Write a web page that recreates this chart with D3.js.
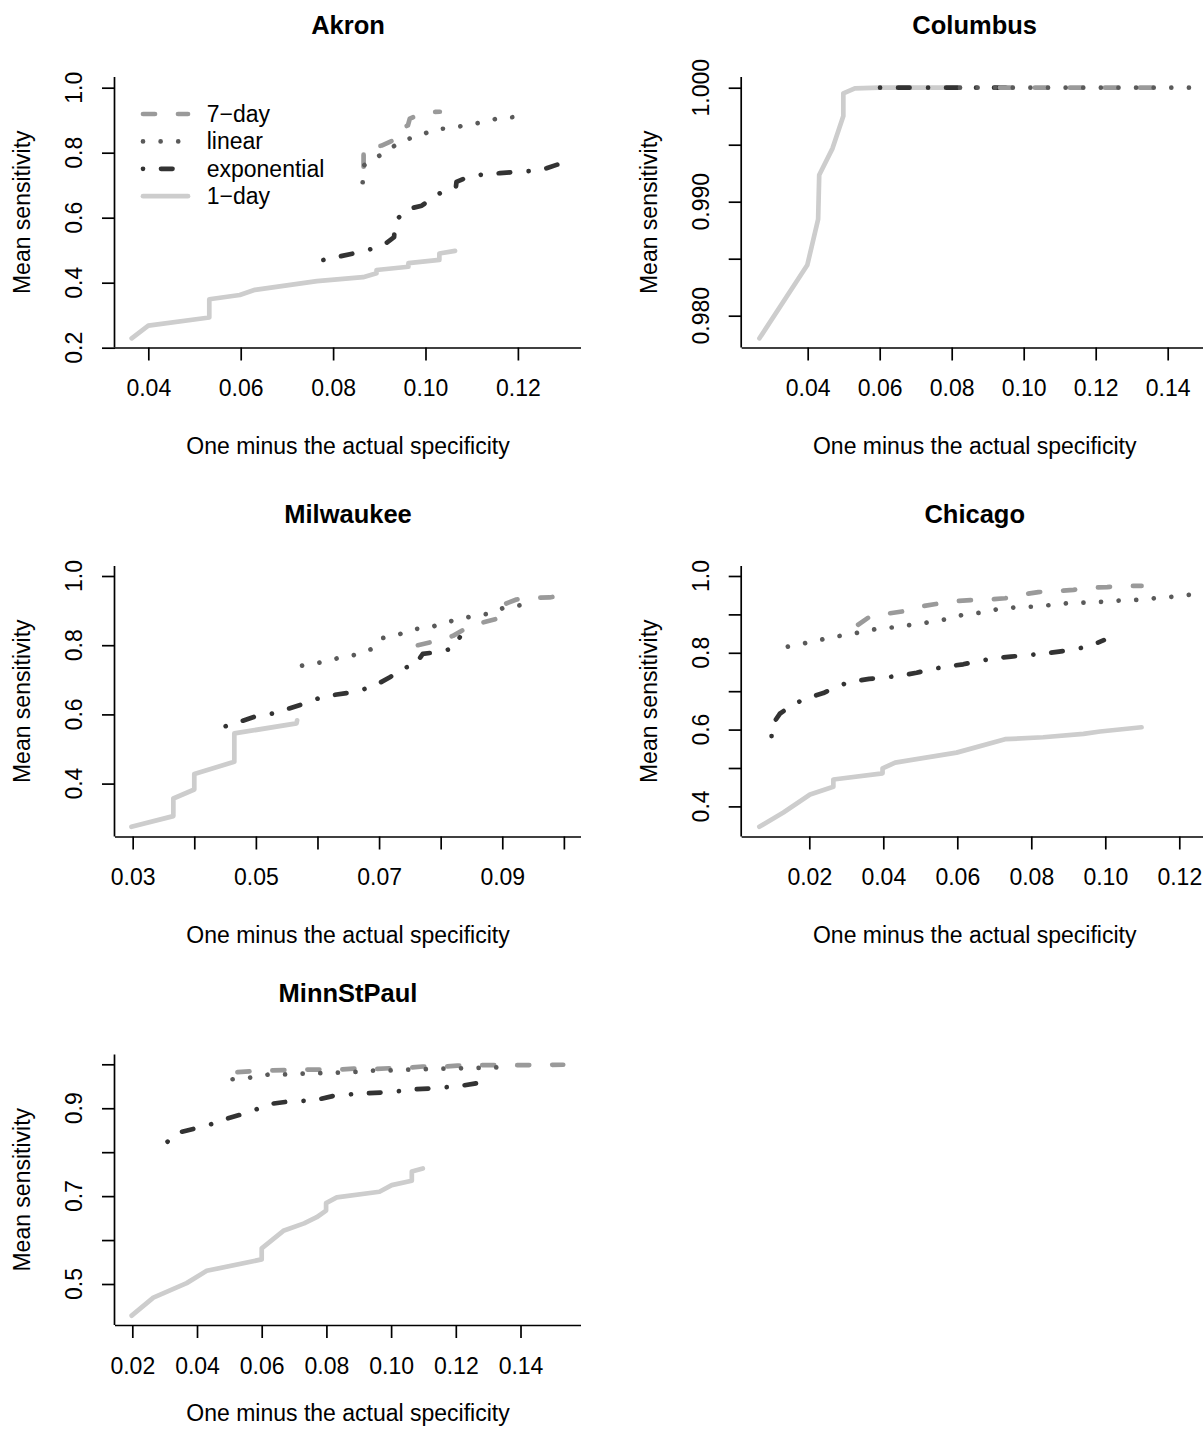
<!DOCTYPE html>
<html>
<head>
<meta charset="utf-8">
<script src="https://cdn.jsdelivr.net/npm/d3@7"></script>
<style>
  body { margin: 0; background: #ffffff; }
  svg { display: block; font-family: "Liberation Sans", Arial, Helvetica, sans-serif; }
</style>
</head>
<body>
<svg id="chart" width="1203" height="1433"></svg>
<script>
// ---- Series order and names ----
const seriesNames = ["7-day", "linear", "exponential", "1-day"];

// ---- Akron ----
const akronDay7 = [[0.0866,0.757],[0.0866,0.812],[0.0905,0.822],[0.0930,0.838],[0.0940,0.870],[0.0962,0.884],[0.0966,0.905],[0.1000,0.924],[0.1031,0.926]];
const akronLinear = [[0.0864,0.709],[0.0866,0.760],[0.0880,0.775],[0.0897,0.788],[0.0952,0.839],[0.0988,0.851],[0.1017,0.872],[0.1053,0.875],[0.1089,0.885],[0.1125,0.894],[0.1158,0.906],[0.1196,0.910]];
const akronExp = [[0.0779,0.470],[0.0844,0.490],[0.0881,0.503],[0.0916,0.523],[0.0932,0.540],[0.0933,0.560],[0.0940,0.598],[0.0963,0.627],[0.0992,0.637],[0.1019,0.665],[0.1049,0.690],[0.1066,0.696],[0.1067,0.710],[0.1096,0.728],[0.1132,0.734],[0.1161,0.737],[0.1197,0.741],[0.1241,0.745],[0.1262,0.752],[0.1297,0.769]];
const akronDay1 = [[0.0364,0.229],[0.0400,0.268],[0.0532,0.293],[0.0532,0.349],[0.0598,0.362],[0.0631,0.378],[0.0765,0.405],[0.0865,0.417],[0.0894,0.429],[0.0894,0.439],[0.0963,0.449],[0.0963,0.460],[0.1030,0.470],[0.1030,0.490],[0.1064,0.498]];
const akronXLim = [0.03279, 0.13366];
const akronYLim = [0.2006, 1.0329];
const akronXTicks = [0.04, 0.06, 0.08, 0.10, 0.12];
const akronXLabels = [0.04, 0.06, 0.08, 0.10, 0.12];
const akronYTicks = [0.2, 0.4, 0.6, 0.8, 1.0];
const akronYLabels = [0.2, 0.4, 0.6, 0.8, 1.0];

// ---- Columbus ----
const columbusDay7 = [[0.0934,1.0],[0.1370,1.0]];
const columbusLinear = [[0.0823,1.0],[0.1462,1.0]];
const columbusExp = [[0.0601,1.0],[0.0997,1.0]];
const columbusDay1 = [[0.0266,0.97802],[0.0399,0.98445],[0.0429,0.98846],[0.0432,0.99234],[0.0469,0.99468],[0.0499,0.99752],[0.0499,0.99951],[0.0531,0.99995],[0.0601,1.0],[0.0823,1.0]];
const columbusXLim = [0.02167, 0.15111];
const columbusYLim = [0.97721, 1.00094];
const columbusXTicks = [0.04, 0.06, 0.08, 0.10, 0.12, 0.14];
const columbusXLabels = [0.04, 0.06, 0.08, 0.10, 0.12, 0.14];
const columbusYTicks = [0.980, 0.985, 0.990, 0.995, 1.000];
const columbusYLabels = [0.980, 0.990, 1.000];

// ---- Milwaukee ----
const milwaukeeDay7 = [[0.0763,0.800],[0.0799,0.815],[0.0820,0.827],[0.0842,0.850],[0.0867,0.865],[0.0895,0.878],[0.0899,0.882],[0.0900,0.916],[0.0923,0.932],[0.0945,0.937],[0.0977,0.938],[0.0999,0.945]];
const milwaukeeLinear = [[0.0575,0.741],[0.0604,0.750],[0.0632,0.762],[0.0661,0.772],[0.0688,0.789],[0.0704,0.820],[0.0732,0.831],[0.0754,0.846],[0.0783,0.851],[0.0805,0.865],[0.0831,0.875],[0.0856,0.886],[0.0884,0.892],[0.0903,0.909],[0.0932,0.916]];
const milwaukeeExp = [[0.0451,0.566],[0.0474,0.579],[0.0501,0.595],[0.0528,0.603],[0.0550,0.615],[0.0577,0.630],[0.0601,0.646],[0.0626,0.656],[0.0653,0.663],[0.0680,0.675],[0.0700,0.690],[0.0719,0.709],[0.0737,0.733],[0.0760,0.743],[0.0765,0.760],[0.0771,0.775],[0.0799,0.781],[0.0820,0.791],[0.0826,0.805],[0.0831,0.823]];
const milwaukeeDay1 = [[0.0298,0.275],[0.0366,0.306],[0.0366,0.357],[0.0400,0.383],[0.0400,0.428],[0.0465,0.463],[0.0465,0.545],[0.0566,0.574],[0.0567,0.583]];
const milwaukeeXLim = [0.02713, 0.10278];
const milwaukeeYLim = [0.2471, 1.0289];
const milwaukeeXTicks = [0.03, 0.04, 0.05, 0.06, 0.07, 0.08, 0.09, 0.10];
const milwaukeeXLabels = [0.03, 0.05, 0.07, 0.09];
const milwaukeeYTicks = [0.4, 0.6, 0.8, 1.0];
const milwaukeeYLabels = [0.4, 0.6, 0.8, 1.0];

// ---- Chicago ----
const chicagoDay7 = [[0.0332,0.873],[0.0366,0.896],[0.0418,0.903],[0.0461,0.909],[0.0504,0.921],[0.0542,0.927],[0.0598,0.935],[0.0636,0.937],[0.0690,0.939],[0.0729,0.942],[0.0760,0.946],[0.0783,0.953],[0.0819,0.958],[0.0876,0.961],[0.0914,0.964],[0.0966,0.970],[0.1005,0.971],[0.1062,0.974],[0.1098,0.974]];
const chicagoLinear = [[0.0142,0.816],[0.0188,0.825],[0.0236,0.835],[0.0283,0.844],[0.0330,0.852],[0.0376,0.861],[0.0424,0.866],[0.0470,0.872],[0.0519,0.879],[0.0567,0.887],[0.0612,0.898],[0.0659,0.904],[0.0707,0.913],[0.0754,0.918],[0.0801,0.920],[0.0849,0.924],[0.0897,0.929],[0.0945,0.931],[0.0993,0.933],[0.1042,0.936],[0.1089,0.938],[0.1134,0.942],[0.1182,0.946],[0.1229,0.951]];
const chicagoExp = [[0.0098,0.583],[0.0098,0.610],[0.0121,0.642],[0.0159,0.667],[0.0195,0.682],[0.0238,0.695],[0.0278,0.714],[0.0315,0.725],[0.0362,0.732],[0.0405,0.736],[0.0445,0.740],[0.0490,0.748],[0.0534,0.758],[0.0571,0.764],[0.0616,0.770],[0.0661,0.779],[0.0702,0.786],[0.0745,0.790],[0.0792,0.794],[0.0828,0.797],[0.0875,0.803],[0.0918,0.809],[0.0959,0.818],[0.0996,0.833]];
const chicagoDay1 = [[0.0065,0.347],[0.0130,0.384],[0.0202,0.431],[0.0265,0.451],[0.0265,0.470],[0.0398,0.486],[0.0398,0.499],[0.0432,0.514],[0.0598,0.540],[0.0729,0.575],[0.0832,0.580],[0.0941,0.589],[0.0986,0.595],[0.1098,0.606]];
const chicagoXLim = [0.00173, 0.12768];
const chicagoYLim = [0.3216, 1.026];
const chicagoXTicks = [0.02, 0.04, 0.06, 0.08, 0.10, 0.12];
const chicagoXLabels = [0.02, 0.04, 0.06, 0.08, 0.10, 0.12];
const chicagoYTicks = [0.4, 0.5, 0.6, 0.7, 0.8, 0.9, 1.0];
const chicagoYLabels = [0.4, 0.6, 0.8, 1.0];

// ---- MinnStPaul ----
const minnDay7 = [[0.0525,0.982],[0.0569,0.984],[0.0628,0.986],[0.0672,0.987],[0.0733,0.988],[0.0777,0.988],[0.0841,0.988],[0.0885,0.990],[0.0946,0.989],[0.0995,0.991],[0.1053,0.992],[0.1098,0.995],[0.1165,0.995],[0.1205,0.997],[0.1273,0.998],[0.1314,0.998],[0.1380,0.998],[0.1532,0.999]];
const minnLinear = [[0.0510,0.966],[0.0569,0.970],[0.0623,0.977],[0.0678,0.977],[0.0733,0.979],[0.0788,0.980],[0.0841,0.981],[0.0895,0.983],[0.0950,0.986],[0.1004,0.986],[0.1056,0.988],[0.1110,0.989],[0.1165,0.990],[0.1220,0.991],[0.1274,0.992],[0.1329,0.993]];
const minnExp = [[0.0309,0.824],[0.0339,0.844],[0.0394,0.854],[0.0445,0.864],[0.0487,0.875],[0.0538,0.886],[0.0585,0.898],[0.0628,0.910],[0.0680,0.915],[0.0731,0.917],[0.0775,0.920],[0.0827,0.929],[0.0880,0.932],[0.0925,0.934],[0.0976,0.936],[0.1028,0.939],[0.1069,0.943],[0.1120,0.945],[0.1172,0.948],[0.1216,0.951],[0.1265,0.957]];
const minnDay1 = [[0.0198,0.428],[0.0265,0.469],[0.0368,0.502],[0.0430,0.530],[0.0600,0.556],[0.0600,0.581],[0.0667,0.621],[0.0731,0.638],[0.0770,0.652],[0.0799,0.667],[0.0799,0.684],[0.0832,0.697],[0.0964,0.710],[0.1002,0.725],[0.1064,0.735],[0.1064,0.756],[0.1098,0.763]];
const minnXLim = [0.01465, 0.1587];
const minnYLim = [0.4067, 1.0223];
const minnXTicks = [0.02, 0.04, 0.06, 0.08, 0.10, 0.12, 0.14];
const minnXLabels = [0.02, 0.04, 0.06, 0.08, 0.10, 0.12, 0.14];
const minnYTicks = [0.5, 0.6, 0.7, 0.8, 0.9, 1.0];
const minnYLabels = [0.5, 0.7, 0.9];

// ---- Line styles per series ----
const lineStyle = {
  "7-day":       { color: "#9a9a9a", dash: "12,23" },
  "linear":      { color: "#5a5a5a", dash: "0.01,17.6" },
  "exponential": { color: "#333333", dash: "0.01,18,11.5,18.5" },
  "1-day":       { color: "#cdcdcd", dash: null }
};
const drawOrder = ["1-day", "exponential", "7-day", "linear"];
const LINE_W = 4.7;

// ---- Page layout (pixels) ----
const colLeft = [115, 741.7], colRight = [581, 1207.7];
const rowTop = [77, 566, 1054.5], rowBottom = [347.5, 836.5, 1325];
const titleGap = [43, 43, 53];     // plot top -> title baseline
const xlabGap = [106, 106, 96];    // plot bottom -> x label baseline
const FONT = 23;
const TITLE_FONT = 25.5;

const panels = [
  { title: "Akron", col: 0, row: 0, xLim: akronXLim, yLim: akronYLim,
    xTicks: akronXTicks, xLabels: akronXLabels, yTicks: akronYTicks, yLabels: akronYLabels, yFmt: ".1f",
    series: { "7-day": akronDay7, "linear": akronLinear, "exponential": akronExp, "1-day": akronDay1 }, legend: true },
  { title: "Columbus", col: 1, row: 0, xLim: columbusXLim, yLim: columbusYLim,
    xTicks: columbusXTicks, xLabels: columbusXLabels, yTicks: columbusYTicks, yLabels: columbusYLabels, yFmt: ".3f",
    series: { "7-day": columbusDay7, "linear": columbusLinear, "exponential": columbusExp, "1-day": columbusDay1 } },
  { title: "Milwaukee", col: 0, row: 1, xLim: milwaukeeXLim, yLim: milwaukeeYLim,
    xTicks: milwaukeeXTicks, xLabels: milwaukeeXLabels, yTicks: milwaukeeYTicks, yLabels: milwaukeeYLabels, yFmt: ".1f",
    series: { "7-day": milwaukeeDay7, "linear": milwaukeeLinear, "exponential": milwaukeeExp, "1-day": milwaukeeDay1 } },
  { title: "Chicago", col: 1, row: 1, xLim: chicagoXLim, yLim: chicagoYLim,
    xTicks: chicagoXTicks, xLabels: chicagoXLabels, yTicks: chicagoYTicks, yLabels: chicagoYLabels, yFmt: ".1f",
    series: { "7-day": chicagoDay7, "linear": chicagoLinear, "exponential": chicagoExp, "1-day": chicagoDay1 } },
  { title: "MinnStPaul", col: 0, row: 2, xLim: minnXLim, yLim: minnYLim,
    xTicks: minnXTicks, xLabels: minnXLabels, yTicks: minnYTicks, yLabels: minnYLabels, yFmt: ".1f",
    series: { "7-day": minnDay7, "linear": minnLinear, "exponential": minnExp, "1-day": minnDay1 } }
];

const svg = d3.select("#chart");
const xFmt = d3.format(".2f");
const has = (arr, v) => arr.some(a => Math.abs(a - v) < 1e-9);

function applyStyle(sel, name) {
  const s = lineStyle[name];
  sel.attr("fill", "none")
    .attr("stroke", s.color)
    .attr("stroke-width", LINE_W)
    .attr("stroke-linecap", "round")
    .attr("stroke-linejoin", "round");
  if (s.dash) sel.attr("stroke-dasharray", s.dash);
}

panels.forEach(p => {
  const left = colLeft[p.col], right = colRight[p.col];
  const top = rowTop[p.row], bottom = rowBottom[p.row];
  const x = d3.scaleLinear().domain(p.xLim).range([left, right]);
  const y = d3.scaleLinear().domain(p.yLim).range([bottom, top]);
  const g = svg.append("g").attr("class", "panel");

  // curves
  const line = d3.line().x(d => x(d[0])).y(d => y(d[1]));
  drawOrder.forEach(name => {
    const data = p.series[name];
    if (!data) return;
    g.append("path").datum(data).attr("d", line).call(applyStyle, name);
  });

  // x axis: bottom edge of the L frame plus outward ticks
  const xAxis = d3.axisBottom(x).tickValues(p.xTicks).tickSizeInner(13).tickSizeOuter(0)
    .tickPadding(19.5).tickFormat(d => has(p.xLabels, d) ? xFmt(d) : "");
  const gx = g.append("g").attr("transform", `translate(0,${bottom})`).call(xAxis);
  gx.selectAll("path, line").attr("stroke", "#000").attr("stroke-width", 1.7);
  gx.selectAll("text").attr("font-size", FONT).attr("fill", "#000")
    .attr("font-family", "Liberation Sans, Arial, sans-serif");

  // y axis: left edge of the frame plus ticks; labels rotated parallel to the axis
  const yAxis = d3.axisLeft(y).tickValues(p.yTicks).tickSizeInner(13).tickSizeOuter(0).tickFormat("");
  const gy = g.append("g").attr("transform", `translate(${left},0)`).call(yAxis);
  gy.selectAll("path, line").attr("stroke", "#000").attr("stroke-width", 1.7);
  const yFmt = d3.format(p.yFmt);
  p.yLabels.forEach(v => {
    const tx = left - 33, ty = y(v);
    g.append("text").attr("x", tx).attr("y", ty)
      .attr("transform", `rotate(-90,${tx},${ty})`)
      .attr("text-anchor", "middle").attr("font-size", FONT).attr("fill", "#000")
      .text(yFmt(v));
  });
  // make the two frame edges meet at the corner
  gx.select(".domain").attr("d", `M${left},0.5H${right}`);
  gy.select(".domain").attr("d", `M-0.5,${top}V${bottom}`);

  // titles
  const cx = (left + right) / 2, cy = (top + bottom) / 2;
  g.append("text").attr("x", cx).attr("y", top - titleGap[p.row])
    .attr("text-anchor", "middle").attr("font-size", TITLE_FONT).attr("font-weight", "bold").text(p.title);
  g.append("text").attr("x", cx).attr("y", bottom + xlabGap[p.row])
    .attr("text-anchor", "middle").attr("font-size", FONT).text("One minus the actual specificity");
  const lx = left - 85;
  g.append("text").attr("x", lx).attr("y", cy)
    .attr("transform", `rotate(-90,${lx},${cy})`)
    .attr("text-anchor", "middle").attr("font-size", FONT).text("Mean sensitivity");

  // legend
  if (p.legend) {
    const lg = g.append("g").attr("class", "legend");
    seriesNames.forEach((name, k) => {
      const ly = 114 + k * 27.4;
      lg.append("path").attr("d", `M143,${ly}H188`).call(applyStyle, name);
      lg.append("text").attr("x", 206.7).attr("y", ly).attr("dy", "0.35em")
        .attr("font-size", FONT).text(name.replace("-", "\u2212"));
    });
  }
});
</script>
</body>
</html>
